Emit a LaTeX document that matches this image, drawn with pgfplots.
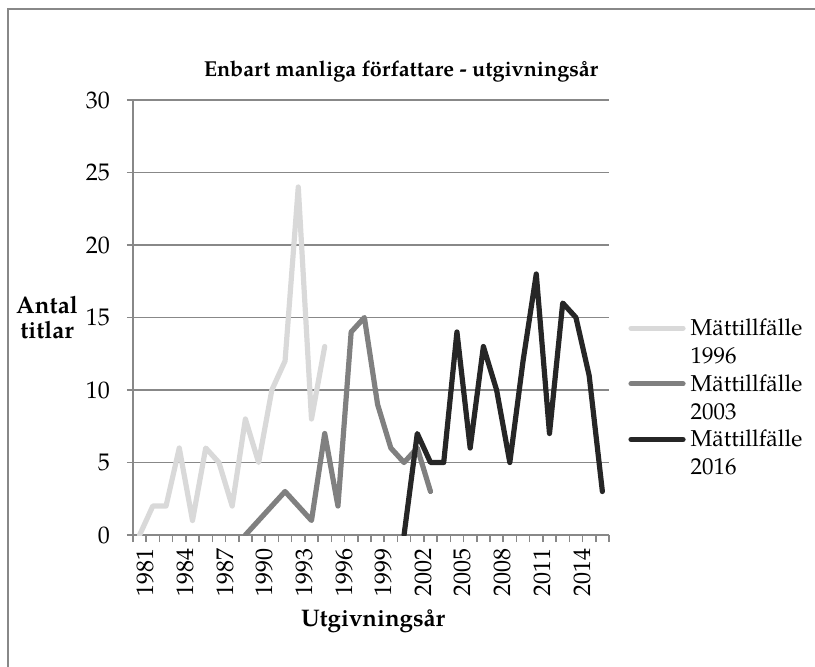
\documentclass[border=0pt]{standalone}
\usepackage{fontspec}
\setmainfont{TeX Gyre Pagella}
\usepackage{pgfplots}
\usepackage{pgfplotstable}
\pgfplotsset{compat=1.18}

\definecolor{ljus}{HTML}{D9D9D9}
\definecolor{mellan}{HTML}{808080}
\definecolor{mork}{HTML}{262626}
\definecolor{rutnat}{HTML}{888888}

% antal titlar per utgivningsaar
\pgfplotstableread{
ar   n
1981 0
1982 2
1983 2
1984 6
1985 1
1986 6
1987 5
1988 2
1989 8
1990 5
1991 10
1992 12
1993 24
1994 8
1995 13
}\matt

\pgfplotstableread{
ar   n
1989 0
1990 1
1991 2
1992 3
1993 2
1994 1
1995 7
1996 2
1997 14
1998 15
1999 9
2000 6
2001 5
2002 6
2003 3
}\mattb

\pgfplotstableread{
ar   n
2001 0
2002 7
2003 5
2004 5
2005 14
2006 6
2007 13
2008 10
2009 5
2010 12
2011 18
2012 7
2013 16
2014 15
2015 11
2016 3
}\mattc

\begin{document}
\begin{tikzpicture}
\useasboundingbox (-66.5pt,-65.5pt) rectangle (341pt,267.5pt);
\draw[rutnat, line width=1pt] (-62.5pt,-70pt) -- (-62.5pt,263pt) -- (345pt,263pt);

\begin{axis}[
    scale only axis,
    width=238pt, height=217.5pt,
    xmin=-0.5, xmax=35.5,
    ymin=0, ymax=30,
    axis x line*=bottom,
    axis y line*=left,
    axis line style={draw=rutnat, line width=0.75pt, -},
    ytick={0,5,...,30},
    xtick={0,3,...,33},
    xticklabels={1981,1984,1987,1990,1993,1996,1999,2002,2005,2008,2011,2014},
    minor xtick={-0.5,0.5,...,35.5},
    tick align=outside,
    major tick length=3pt,
    minor tick length=3.5pt,
    major x tick style={draw=none},
    every tick/.style={rutnat, line width=0.75pt},
    ymajorgrids,
    major grid style={rutnat, line width=0.75pt},
    /pgf/number format/assume math mode=true,
    xticklabel style={font=\fontsize{12}{14}\selectfont, rotate=90, anchor=east, yshift=-3pt},
    yticklabel style={font=\fontsize{12}{14}\selectfont, xshift=-5pt},
    legend style={draw=none, fill=none, at={(rel axis cs:1.04,0.514)}, anchor=north west,
        inner sep=0pt, row sep=12.5pt, column sep=0.5pt,
        cells={anchor=base west}, font=\fontsize{11.5}{14}\selectfont},
    legend image code/.code={\draw[#1] (0pt,3.6pt) -- (26pt,3.6pt);},
    every axis plot/.append style={line width=2.6pt, line join=round, line cap=round},
]
\addplot[ljus] table[x expr=\thisrow{ar}-1981, y=n] {\matt};
\addlegendentry{\begin{tabular}[t]{@{}l@{}}Mättillfälle\\1996\end{tabular}}
\addplot[mellan] table[x expr=\thisrow{ar}-1981, y=n] {\mattb};
\addlegendentry{\begin{tabular}[t]{@{}l@{}}Mättillfälle\\2003\end{tabular}}
\addplot[mork] table[x expr=\thisrow{ar}-1981, y=n] {\mattc};
\addlegendentry{\begin{tabular}[t]{@{}l@{}}Mättillfälle\\2016\end{tabular}}
\end{axis}

\node[font=\bfseries\fontsize{10.8}{13}\selectfont] at (134pt,231.5pt) {Enbart manliga författare - utgivningsår};
\node[font=\bfseries\fontsize{12}{12.5}\selectfont, align=center] at (-43pt,108.5pt) {Antal\\titlar};
\node[font=\bfseries\fontsize{12}{13}\selectfont] at (120pt,-43pt) {Utgivningsår};
\end{tikzpicture}
\end{document}
